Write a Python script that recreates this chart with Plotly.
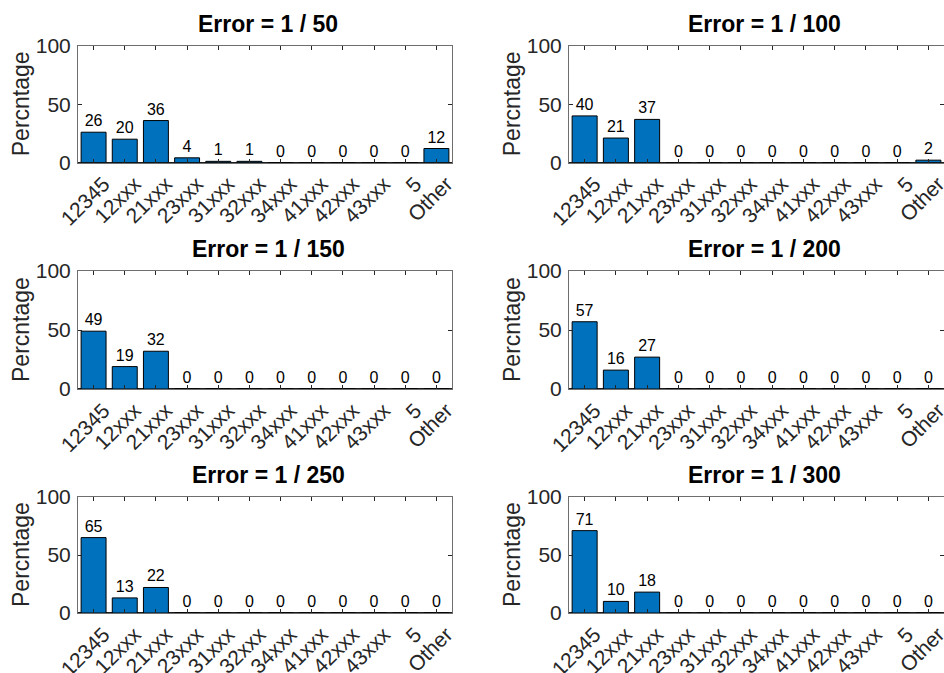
import plotly.graph_objects as go

# Category labels along the x axis
categories = ["12345", "12xxx", "21xxx", "23xxx", "31xxx", "32xxx",
              "34xxx", "41xxx", "42xxx", "43xxx", "5", "Other"]

# Percentage of cases per category for each error level
pct_50 = [26, 20, 36, 4, 1, 1, 0, 0, 0, 0, 0, 12]
pct_100 = [40, 21, 37, 0, 0, 0, 0, 0, 0, 0, 0, 2]
pct_150 = [49, 19, 32, 0, 0, 0, 0, 0, 0, 0, 0, 0]
pct_200 = [57, 16, 27, 0, 0, 0, 0, 0, 0, 0, 0, 0]
pct_250 = [65, 13, 22, 0, 0, 0, 0, 0, 0, 0, 0, 0]
pct_300 = [71, 10, 18, 0, 0, 0, 0, 0, 0, 0, 0, 0]

panel_titles = ["Error = 1 / 50", "Error = 1 / 100", "Error = 1 / 150",
                "Error = 1 / 200", "Error = 1 / 250", "Error = 1 / 300"]
panel_values = [pct_50, pct_100, pct_150, pct_200, pct_250, pct_300]

y_ticks = [0, 50, 100]

W, H = 944, 673
FONT = "Liberation Sans, Arial, Helvetica, sans-serif"
AX_COLOR = "#262626"
LINE_COLOR = "#6e6e6e"
BAR_COLOR = "#0072BD"

# Panel placement in pixels: (left, right) per column, (top, bottom) per row
cols_px = [(78, 452), (569, 944)]
rows_px = [(46, 162.5), (271, 389), (497, 613)]
title_xshift = [3, 8]

fig = go.Figure()

for i, (title, vals) in enumerate(zip(panel_titles, panel_values)):
    r, c = divmod(i, 2)
    n = i + 1
    xa = "x" if n == 1 else f"x{n}"
    ya = "y" if n == 1 else f"y{n}"
    xkey = "xaxis" if n == 1 else f"xaxis{n}"
    ykey = "yaxis" if n == 1 else f"yaxis{n}"

    fig.add_trace(go.Bar(
        x=categories, y=vals, xaxis=xa, yaxis=ya,
        width=0.8,
        marker=dict(color=BAR_COLOR, line=dict(color="black", width=1)),
        text=[str(v) for v in vals], textposition="outside",
        textfont=dict(family=FONT, size=16, color="black"),
        constraintext="none", cliponaxis=False,
        showlegend=False, hoverinfo="x+y",
    ))

    x0, x1 = cols_px[c]
    t, b = rows_px[r]
    fig.layout[xkey] = dict(
        domain=[x0 / W, x1 / W], anchor=ya, type="category",
        range=[-0.5, len(categories) - 0.5],
        showline=True, linecolor=LINE_COLOR, linewidth=1, mirror="ticks",
        ticks="inside", ticklen=4, tickcolor=AX_COLOR, tickwidth=1,
        tickangle=-45, ticklabelshift=10, ticklabelstandoff=0,
        showgrid=False, zeroline=False, automargin=False,
        tickfont=dict(family=FONT, size=21, color=AX_COLOR),
        fixedrange=True,
    )
    fig.layout[ykey] = dict(
        domain=[1 - b / H, 1 - t / H], anchor=xa,
        range=[0, 100], tickvals=y_ticks, ticktext=[str(v) for v in y_ticks],
        showline=True, linecolor=LINE_COLOR, linewidth=1, mirror="ticks",
        ticks="inside", ticklen=4, tickcolor=AX_COLOR, tickwidth=1,
        showgrid=False, automargin=False,
        zeroline=True, zerolinecolor="#1a1a1a", zerolinewidth=2,
        tickfont=dict(family=FONT, size=21, color=AX_COLOR),
        ticklabelstandoff=2,
        fixedrange=True,
    )

    # Panel title
    fig.add_annotation(
        text=f"<b>{title}</b>", showarrow=False,
        xref=f"{xa} domain", yref=f"{ya} domain", x=0.5, y=1,
        xanchor="center", yanchor="bottom",
        xshift=title_xshift[c], yshift=7,
        font=dict(family=FONT, size=23, color="black"),
    )
    # Y-axis label
    fig.add_annotation(
        text="Percntage", showarrow=False, textangle=-90,
        xref=f"{xa} domain", yref=f"{ya} domain", x=0, y=0.5,
        xanchor="center", yanchor="middle", xshift=-57,
        font=dict(family=FONT, size=23, color=AX_COLOR),
    )

fig.update_layout(
    width=W, height=H,
    margin=dict(l=0, r=0, t=0, b=0),
    paper_bgcolor="white", plot_bgcolor="white",
    bargap=0.2,
)

fig.write_html("out.html", config={"displayModeBar": False})
